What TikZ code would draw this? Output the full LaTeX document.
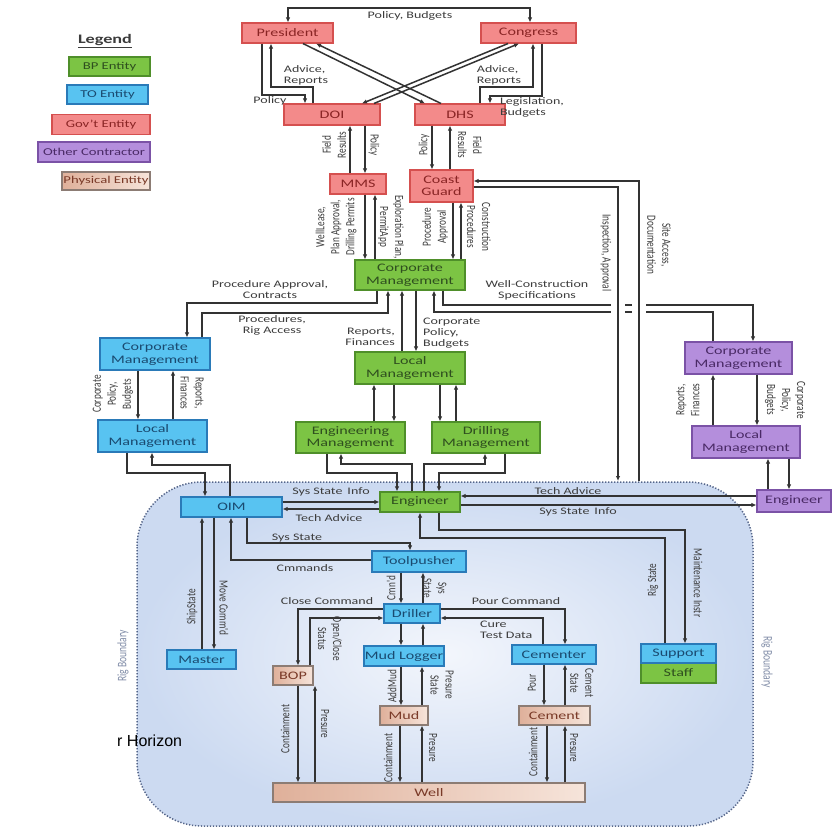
\documentclass[tikz,border=0pt]{standalone}
\usepackage{fontspec}
\setmainfont[FakeStretch=1.4]{Carlito}
\newfontfamily\rotfam[FakeStretch=0.74]{Carlito}
\newfontfamily\arialfam{Liberation Sans}
\usetikzlibrary{arrows.meta}
\definecolor{bpf}{HTML}{7CC444}
\definecolor{bpd}{HTML}{4F8F2A}
\definecolor{bpt}{HTML}{2F4F1F}
\definecolor{tof}{HTML}{58C3F1}
\definecolor{tod}{HTML}{2A7AB8}
\definecolor{tot}{HTML}{1A4A70}
\definecolor{govf}{HTML}{F38A8A}
\definecolor{govd}{HTML}{D5504F}
\definecolor{govt}{HTML}{8A2525}
\definecolor{ocf}{HTML}{B48EDC}
\definecolor{ocd}{HTML}{7B52A6}
\definecolor{oct}{HTML}{4A2A66}
\definecolor{phl}{HTML}{DFB09A}
\definecolor{phr}{HTML}{F6E4DA}
\definecolor{phd}{HTML}{8C7C74}
\definecolor{pht}{HTML}{7A3A28}
\definecolor{lnc}{HTML}{333333}
\definecolor{labc}{HTML}{3C3C3C}
\definecolor{rigin}{HTML}{F3F6FC}
\definecolor{rigout}{HTML}{CCDAF1}
\definecolor{rigd}{HTML}{56668A}
\newcommand\mybxf{\fontsize{11.5}{12.5}\selectfont}
\newcommand\mylbf{\fontsize{10}{11}\selectfont}
\newcommand\myrtf{\rotfam\fontsize{12.5}{15}\selectfont}
\newcommand\mylgf{\fontsize{10.5}{12}\selectfont}
\begin{document}
\begin{tikzpicture}[x=1pt,y=-1pt,
  box/.style={draw, line width=1.1pt, inner sep=0pt, align=center, font=\mybxf},
  sz/.style 2 args={minimum width=#1, minimum height=#2},
  bp/.style={box, fill=bpf, draw=bpd, text=bpt},
  to/.style={box, fill=tof, draw=tod, text=tot},
  gov/.style={box, fill=govf, draw=govd, text=govt},
  oc/.style={box, fill=ocf, draw=ocd, text=oct},
  phys/.style={box, left color=phl, right color=phr, draw=phd, text=pht},
  ln/.style={line width=1.5pt, draw=lnc},
  ar/.style={ln, -{Latex[length=5pt,width=4.5pt]}},
  biar/.style={ln, {Latex[length=5pt,width=4.5pt]}-{Latex[length=5pt,width=4.5pt]}},
  lab/.style={font=\mylbf, text=labc, align=center, inner sep=0pt},
  rl/.style={font=\myrtf, text=labc, align=center, inner sep=0pt, rotate=90},
  rr/.style={font=\myrtf, text=labc, align=center, inner sep=0pt, rotate=-90},
  rigb/.style={font=\rotfam\fontsize{13}{13}\selectfont, text=rigd!75, inner sep=0pt}
]
\useasboundingbox (0,0) rectangle (832,831);
\fill[white] (0,0) rectangle (832,831);

% rig boundary
\shade[inner color=rigin, outer color=rigout, rounded corners=65] (137,482) rectangle (753,826);
\draw[rigd, line width=1.5pt, dash pattern=on 1.3pt off 1.7pt, rounded corners=65] (137,482) rectangle (753,826);
\node[rigb, rotate=90] (rbl) at (123,656) {Rig Boundary};
\node[rigb, rotate=-90] (rbr) at (767,662) {Rig Boundary};
\node[font=\arialfam\fontsize{16}{16}\selectfont, anchor=west, inner sep=0pt] (horiz) at (117,741) {r Horizon};

% legend
\node[font=\fontsize{13}{13}\selectfont, text=labc] (legt) at (105,41) {\bfseries\underline{Legend}};
\node[bp, sz={81}{19}, font=\mylgf] (lg1) at (109.5,66.5) {BP Entity};
\node[to, sz={81}{19}, font=\mylgf] (lg2) at (107.5,94.5) {TO Entity};
\node[gov, sz={98}{20}, font=\mylgf] (lg3) at (101,124.5) {Gov't Entity};
\node[oc, sz={112}{20}, font=\mylgf] (lg4) at (94,152) {Other Contractor};
\node[phys, sz={88}{18}, font=\mylgf] (lg5) at (106,181) {Physical Entity};

% nodes
\node[gov, sz={91}{20}] (pres) at (287.5,33) {President};
\node[gov, sz={95}{20}] (cong) at (528.5,33) {Congress};
\node[gov, sz={96}{21}] (doi) at (332,114.5) {DOI};
\node[gov, sz={90}{21}] (dhs) at (460,114.5) {DHS};
\node[gov, sz={56}{20}] (mms) at (358,184) {MMS};
\node[gov, sz={63}{32}] (cg) at (441.5,186) {Coast\\Guard};
\node[bp, sz={110}{30}] (bpcorp) at (410,275) {Corporate\\Management};
\node[to, sz={110}{32}] (tocorp) at (155,354) {Corporate\\Management};
\node[to, sz={109}{32}] (toloc) at (152.5,436) {Local\\Management};
\node[bp, sz={110}{32}] (bploc) at (410,368) {Local\\Management};
\node[bp, sz={109}{31}] (engm) at (350.5,437.5) {Engineering\\Management};
\node[bp, sz={108}{31}] (drlm) at (486,437.5) {Drilling\\Management};
\node[oc, sz={107}{32}] (occorp) at (738.5,358) {Corporate\\Management};
\node[oc, sz={108}{32}] (ocloc) at (746,442) {Local\\Management};
\node[oc, sz={74}{22}] (oceng) at (794,501) {Engineer};
\node[to, sz={101}{20}] (oim) at (231.5,507) {OIM};
\node[bp, sz={80}{20}] (eng) at (420,502) {Engineer};
\node[to, sz={94}{21}] (tool) at (419,561.5) {Toolpusher};
\node[to, sz={56}{19}] (drl) at (412,613.5) {Driller};
\node[to, sz={80}{20}] (mudl) at (404,656) {Mud Logger};
\node[to, sz={84}{19}] (cem) at (554,654.5) {Cementer};
\node[to, sz={69}{19}] (master) at (201.5,659.5) {Master};
\node[phys, sz={40}{19}] (bop) at (293,675.5) {BOP};
\node[phys, sz={48}{19}] (mud) at (404,715.5) {Mud};
\node[phys, sz={71}{19}] (cement) at (554.5,715.5) {Cement};
\node[phys, sz={312}{19}] (well) at (429,792.5) {Well};
\node[bp, sz={75}{20}] (staff) at (678.5,673) {Staff};
\node[to, sz={75}{19}] (support) at (678.5,653.5) {Support};

\coordinate (insp) at (618,481);
\coordinate (site) at (639,481);

% top government
\draw[biar] (pres.north -| 288,0) -- (288,8) -- (530,8) -- (cong.north -| 530,0);
\node[lab] (l1) at (410,16) {Policy, Budgets};
\draw[ar] (pres.south -| 262,0) -- (262,95) -- (305,95) -- (doi.north -| 305,0);
\node[lab] (l2) at (270,101) {Policy};
\draw[ar] (doi.north -| 313,0) -- (313,87) -- (271,87) -- (pres.south -| 271,0);
\node[lab, align=left] (l3) at (306,75) {Advice,\\Reports};
\draw[ar] (pres.south -| 303,0) -- (dhs.north -| 425,0);
\draw[ar] (dhs.north -| 441,0) -- (pres.south -| 316,0);
\draw[ar] (cong.south -| 508,0) -- (doi.north -| 362,0);
\draw[ar] (doi.north -| 374,0) -- (cong.south -| 519,0);
\draw[ar] (dhs.north -| 480,0) -- (480,87) -- (533,87) -- (cong.south -| 533,0);
\node[lab, align=left] (l4) at (499,75) {Advice,\\Reports};
\draw[ar] (cong.south -| 542,0) -- (542,96) -- (490,96) -- (dhs.north -| 490,0);
\node[lab, align=left] (l5) at (532,107) {Legislation,\\Budgets};

% DOI/DHS to MMS/CG
\draw[ar] (mms.north -| 350,0) -- (doi.south -| 350,0);
\draw[ar] (doi.south -| 365,0) -- (mms.north -| 365,0);
\node[rl] (l6) at (334,145) {Field\\Results};
\node[rr] (l7) at (374,145) {Policy};
\draw[ar] (dhs.south -| 432,0) -- (cg.north -| 432,0);
\draw[ar] (cg.north -| 450,0) -- (dhs.south -| 450,0);
\node[rl] (l8) at (424,145) {Policy};
\node[rr] (l9) at (470,145) {Field\\Results};

% MMS/CG to BP corporate
\draw[ar] (mms.south -| 365,0) -- (bpcorp.north -| 365,0);
\draw[ar] (bpcorp.north -| 375,0) -- (mms.south -| 375,0);
\node[rl] (l10) at (336,227) {WellLease,\\Plan Approval,\\Drilling Permits};
\node[rr] (l11) at (391,227) {Exploration Plan,\\PermitApp};
\draw[ar] (cg.south -| 453,0) -- (bpcorp.north -| 453,0);
\draw[ar] (bpcorp.north -| 461,0) -- (cg.south -| 461,0);
\node[rl] (l12) at (435,227) {Procedure\\Approval};
\node[rr] (l13) at (479,227) {Construction\\Procedures};

% BP corp to TO corp
\draw[ar] (bpcorp.south -| 377,0) -- (377,303) -- (187,303) -- (tocorp.north -| 187,0);
\node[lab] (l14) at (270,290) {Procedure Approval,\\Contracts};
\draw[ar] (tocorp.north -| 202,0) -- (202,313) -- (388,313) -- (bpcorp.south -| 388,0);
\node[lab] (l15) at (272,325) {Procedures,\\Rig Access};

% BP corp to BP local
\draw[ar] (bploc.north -| 402,0) -- (bpcorp.south -| 402,0);
\draw[ar] (bpcorp.south -| 416,0) -- (bploc.north -| 416,0);
\node[lab, align=right, anchor=east] (l16) at (395,337) {Reports,\\Finances};
\node[lab, align=left, anchor=west] (l17) at (423,333) {Corporate\\Policy,\\Budgets};

% well construction
\draw[ar] (bpcorp.south -| 443,0) -- (443,305) -- (753,305) -- (occorp.north -| 753,0);
\draw[ar] (occorp.north -| 713,0) -- (713,312) -- (434,312) -- (bpcorp.south -| 434,0);
\node[lab] (l18) at (537,290) {Well-Construction\\Specifications};
\fill[white] (611,300) rectangle (625,317);
\fill[white] (632,300) rectangle (646,317);
\draw[ar] (site) -- (639,181) -- (cg.east |- 0,181);
\draw[ar] (cg.east |- 0,187) -- (618,187) -- (insp);
\node[rr] (l19) at (606,253) {Inspection, Approval};
\node[rr] (l20) at (659,245) {Site Access,\\Documentation};

% TO corp to TO local
\draw[ar] (tocorp.south -| 138,0) -- (toloc.north -| 138,0);
\draw[ar] (toloc.north -| 173,0) -- (tocorp.south -| 173,0);
\node[rl] (l21) at (113,394) {Corporate\\Policy,\\Budgets};
\node[rr] (l22) at (192,393) {Reports,\\Finances};

% Other contractor
\draw[ar] (ocloc.north -| 713,0) -- (occorp.south -| 713,0);
\draw[ar] (occorp.south -| 757,0) -- (ocloc.north -| 757,0);
\node[rl] (l23) at (688,400) {Reports,\\Finances};
\node[rr] (l24) at (785,400) {Corporate\\Policy,\\Budgets};
\draw[ar] (oceng.north -| 768,0) -- (ocloc.south -| 768,0);
\draw[ar] (ocloc.south -| 789,0) -- (oceng.north -| 789,0);

% BP local to eng/drilling mgmt
\draw[ar] (engm.north -| 374,0) -- (bploc.south -| 374,0);
\draw[ar] (bploc.south -| 394,0) -- (engm.north -| 394,0);
\draw[ar] (bploc.south -| 440,0) -- (drlm.north -| 440,0);
\draw[ar] (drlm.north -| 456,0) -- (bploc.south -| 456,0);

% mgmt to engineer
\draw[ar] (engm.south -| 327,0) -- (327,473) -- (397,473) -- (eng.north -| 397,0);
\draw[ar] (eng.north -| 412,0) -- (412,464) -- (341,464) -- (engm.south -| 341,0);
\draw[ar] (eng.north -| 424,0) -- (424,464) -- (485,464) -- (drlm.south -| 485,0);
\draw[ar] (drlm.south -| 505,0) -- (505,473) -- (439,473) -- (eng.north -| 439,0);

% TO local to OIM
\draw[ar] (toloc.south -| 127,0) -- (127,473) -- (205,473) -- (oim.north -| 205,0);
\draw[ar] (oim.north -| 230,0) -- (230,465) -- (152,465) -- (toloc.south -| 152,0);

% OIM - Engineer
\draw[ar] (oim.east |- 0,502) -- (eng.west |- 0,502);
\draw[ar] (eng.west |- 0,509) -- (oim.east |- 0,509);
\node[lab] (l25) at (331,492) {Sys State\enspace Info};
\node[lab] (l26) at (329,518) {Tech Advice};

% Engineer - other engineer
\draw[ar] (oceng.west |- 0,496) -- (eng.east |- 0,496);
\draw[ar] (eng.east |- 0,505) -- (oceng.west |- 0,505);
\node[lab] (l27) at (568,491) {Tech Advice};
\node[lab] (l28) at (578,512) {Sys State\enspace Info};

% OIM - Master
\draw[ar] (master.north -| 202,0) -- (oim.south -| 202,0);
\draw[ar] (oim.south -| 214,0) -- (master.north -| 214,0);
\node[rl] (l29) at (192,607) {ShipState};
\node[rr] (l30) at (224,608) {Move Comm'd};

% OIM - Toolpusher
\draw[ar] (oim.south -| 247,0) -- (247,543) -- (410,543) -- (tool.north -| 410,0);
\node[lab] (l31) at (297,538) {Sys State};
\draw[ar] (tool.west |- 0,560) -- (231,560) -- (oim.south -| 231,0);
\node[lab] (l32) at (305,568) {Cmmands};

% Toolpusher - Driller - Mud Logger
\draw[ar] (tool.south -| 401,0) -- (drl.north -| 401,0);
\draw[ar] (drl.north -| 423,0) -- (tool.south -| 423,0);
\node[rl] (l33) at (391,588) {Cmn'd};
\node[rr] (l34) at (435,588) {Sys\\State};
\draw[ar] (drl.south -| 401,0) -- (mudl.north -| 401,0);
\draw[ar] (mudl.north -| 423,0) -- (drl.south -| 423,0);

% Driller - BOP
\draw[ar] (drl.west |- 0,609) -- (298,609) -- (bop.north -| 298,0);
\node[lab] (l35) at (327,601) {Close Command};
\draw[ar] (bop.north -| 310,0) -- (310,618) -- (drl.west |- 0,618);
\node[rr] (l36) at (330,639) {Open/Close\\Status};

% Driller - Cementer
\draw[ar] (drl.east |- 0,609) -- (565,609) -- (cem.north -| 565,0);
\node[lab] (l37) at (516,601) {Pour Command};
\draw[ar] (cem.north -| 543,0) -- (543,618) -- (drl.east |- 0,618);
\node[lab, align=left, anchor=west] (l38) at (480,630) {Cure\\Test Data};

% Mud logger - Mud - Well
\draw[ar] (mudl.south -| 401,0) -- (mud.north -| 401,0);
\draw[ar] (mud.north -| 422,0) -- (mudl.south -| 422,0);
\node[rl] (l39) at (392,686) {AddMud};
\node[rr] (l40) at (442,685) {Presure\\State};
\draw[ar] (mud.south -| 400,0) -- (well.north -| 400,0);
\draw[ar] (well.north -| 422,0) -- (mud.south -| 422,0);
\node[rl] (l41) at (388,758) {Containment};
\node[rr] (l42) at (433,748) {Presure};

% BOP - Well
\draw[ar] (bop.south -| 298,0) -- (well.north -| 298,0);
\draw[ar] (well.north -| 315,0) -- (bop.south -| 315,0);
\node[rl] (l43) at (285,729) {Containment};
\node[rr] (l44) at (325,724) {Presure};

% Cementer - Cement - Well
\draw[ar] (cem.south -| 544,0) -- (cement.north -| 544,0);
\draw[ar] (cement.north -| 565,0) -- (cem.south -| 565,0);
\node[rl] (l45) at (532,683) {Pour};
\node[rr] (l46) at (582,683) {Cement\\State};
\draw[ar] (cement.south -| 547,0) -- (well.north -| 547,0);
\draw[ar] (well.north -| 565,0) -- (cement.south -| 565,0);
\node[rl] (l47) at (533,752) {Containment};
\node[rr] (l48) at (574,748) {Presure};

% Engineer - Support
\draw[ar] (support.north -| 665,0) -- (665,538) -- (420,538) -- (eng.south -| 420,0);
\node[rl] (l49) at (653,580) {Rig State};
\draw[ar] (eng.south -| 439,0) -- (439,530) -- (685,530) -- (support.north -| 685,0);
\node[rr] (l50) at (698,583) {Maintenance Instr};
\end{tikzpicture}
\end{document}
